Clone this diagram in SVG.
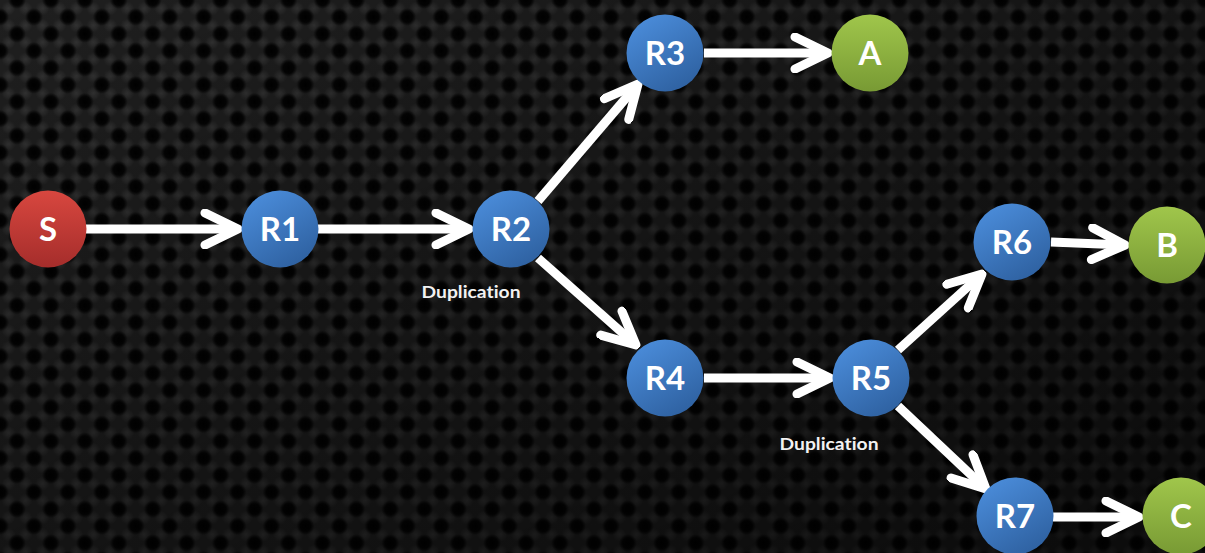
<svg xmlns="http://www.w3.org/2000/svg" width="1205" height="553" viewBox="0 0 1205 553">
  <defs>
    <!-- woven carbon-style background tile -->
    <radialGradient id="hole" cx="0.5" cy="0.5" r="0.5">
      <stop offset="0" stop-color="#000"/>
      <stop offset="0.6" stop-color="#040404"/>
      <stop offset="1" stop-color="#040404" stop-opacity="0"/>
    </radialGradient>
    <radialGradient id="knot" cx="0.5" cy="0.5" r="0.5">
      <stop offset="0" stop-color="#343434"/>
      <stop offset="1" stop-color="#343434" stop-opacity="0"/>
    </radialGradient>
    <pattern id="weave" width="24" height="24" patternUnits="userSpaceOnUse" patternTransform="rotate(45)">
      <rect width="24" height="24" fill="#1f1f1f"/>
      <circle cx="0" cy="12" r="7" fill="url(#knot)"/>
      <circle cx="24" cy="12" r="7" fill="url(#knot)"/>
      <circle cx="12" cy="0" r="7" fill="url(#knot)"/>
      <circle cx="12" cy="24" r="7" fill="url(#knot)"/>
      <circle cx="12" cy="12" r="9" fill="url(#hole)"/>
    </pattern>
    <linearGradient id="shade" x1="0" y1="0" x2="1" y2="1">
      <stop offset="0" stop-color="#000" stop-opacity="0"/>
      <stop offset="0.5" stop-color="#000" stop-opacity="0.35"/>
      <stop offset="1" stop-color="#000" stop-opacity="0.65"/>
    </linearGradient>
    <!-- node fills -->
    <linearGradient id="gBlue" x1="0.2" y1="0" x2="0.8" y2="1">
      <stop offset="0" stop-color="#4b8ddb"/>
      <stop offset="1" stop-color="#2d5f9e"/>
    </linearGradient>
    <linearGradient id="gRed" x1="0" y1="0" x2="0" y2="1">
      <stop offset="0" stop-color="#d8473f"/>
      <stop offset="1" stop-color="#a52d2b"/>
    </linearGradient>
    <linearGradient id="gGreen" x1="0" y1="0" x2="0" y2="1">
      <stop offset="0" stop-color="#a0c64b"/>
      <stop offset="1" stop-color="#789a34"/>
    </linearGradient>
    <marker id="chev" viewBox="-40 -20 44 40" refX="0" refY="0" markerWidth="44" markerHeight="40" markerUnits="userSpaceOnUse" orient="auto">
      <polyline points="-33,-16 0,0 -33,16" fill="none" stroke="#fff" stroke-width="9" stroke-linecap="round" stroke-linejoin="round"/>
    </marker>
  </defs>
  <style>
    .edge { stroke: #fff; stroke-width: 9; fill: none; marker-end: url(#chev); }
    .lbl { font-family: Lato, "Open Sans", "Liberation Sans", sans-serif; font-weight: bold; font-size: 33px; fill: #fff; text-anchor: middle; }
    .note { font-family: Lato, "Open Sans", "Liberation Sans", sans-serif; font-weight: bold; font-size: 17px; fill: #f2f2f2; text-anchor: middle; font-variant-ligatures: none; }
  </style>

  <rect width="1205" height="553" fill="#141414"/>
  <rect width="1205" height="553" fill="url(#weave)"/>
  <rect width="1205" height="553" fill="url(#shade)"/>

  <g id="connectors">
    <line class="edge" x1="86" y1="229" x2="238" y2="229"/>
    <line class="edge" x1="318" y1="229" x2="469" y2="229"/>
    <line class="edge" x1="538" y1="201" x2="638" y2="84"/>
    <line class="edge" x1="538" y1="258" x2="636" y2="345"/>
    <line class="edge" x1="704" y1="53" x2="828" y2="53"/>
    <line class="edge" x1="704" y1="378" x2="830" y2="378"/>
    <line class="edge" x1="898" y1="350" x2="982" y2="274"/>
    <line class="edge" x1="898" y1="406" x2="986" y2="489"/>
    <line class="edge" x1="1051" y1="242" x2="1125" y2="245"/>
    <line class="edge" x1="1053" y1="517" x2="1139" y2="517"/>
  </g>

  <g id="S"><circle cx="48" cy="229" r="38.5" fill="url(#gRed)"/><text class="lbl" x="48" y="241">S</text></g>
  <g id="R1"><circle cx="280" cy="229" r="38.5" fill="url(#gBlue)"/><text class="lbl" x="280" y="241">R1</text></g>
  <g id="R2"><circle cx="511" cy="229" r="38.5" fill="url(#gBlue)"/><text class="lbl" x="511" y="241">R2</text></g>
  <g id="R3"><circle cx="665" cy="53" r="38.5" fill="url(#gBlue)"/><text class="lbl" x="665" y="65">R3</text></g>
  <g id="A"><circle cx="870" cy="53" r="38.5" fill="url(#gGreen)"/><text class="lbl" x="870" y="65">A</text></g>
  <g id="R4"><circle cx="665" cy="378" r="38.5" fill="url(#gBlue)"/><text class="lbl" x="665" y="390">R4</text></g>
  <g id="R5"><circle cx="871" cy="378" r="38.5" fill="url(#gBlue)"/><text class="lbl" x="871" y="390">R5</text></g>
  <g id="R6"><circle cx="1012" cy="242" r="38.5" fill="url(#gBlue)"/><text class="lbl" x="1012" y="254">R6</text></g>
  <g id="B"><circle cx="1167" cy="245" r="38.5" fill="url(#gGreen)"/><text class="lbl" x="1167" y="257">B</text></g>
  <g id="R7"><circle cx="1015" cy="516" r="38.5" fill="url(#gBlue)"/><text class="lbl" x="1015" y="528">R7</text></g>
  <g id="C"><circle cx="1181" cy="516" r="38.5" fill="url(#gGreen)"/><text class="lbl" x="1181" y="528">C</text></g>

  <g id="notes">
    <text class="note" x="471" y="298" textLength="99" lengthAdjust="spacingAndGlyphs">Duplication</text>
    <text class="note" x="829" y="450" textLength="99" lengthAdjust="spacingAndGlyphs">Duplication</text>
  </g>
</svg>
